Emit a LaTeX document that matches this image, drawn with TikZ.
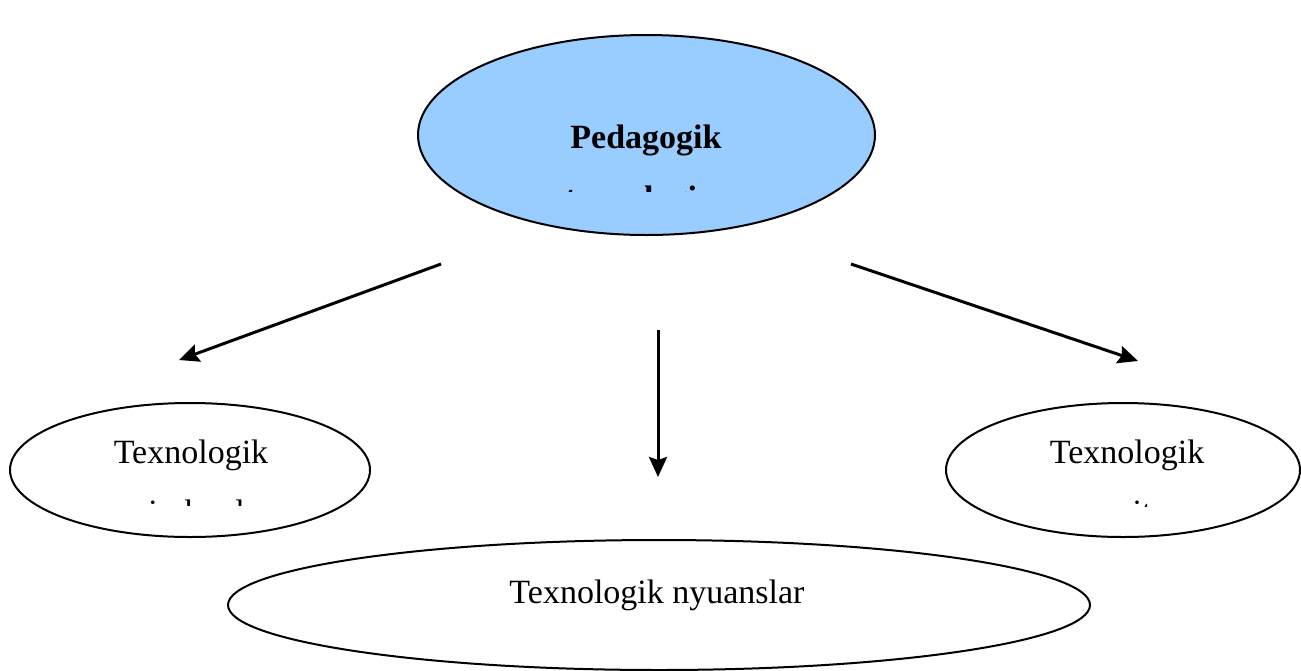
\documentclass[tikz,border=0pt]{standalone}
\usepackage{fontspec}
\setmainfont{Liberation Serif}
\usetikzlibrary{shapes.geometric}
\usetikzlibrary{arrows.meta}
\definecolor{pedblue}{HTML}{99CCFF}

\begin{document}
\begin{tikzpicture}[x=0.5pt, y=-0.5pt,
    oval/.style={ellipse, draw, line width=1pt, inner sep=0pt},
    word/.style={font=\fontsize{17}{20}\selectfont, inner sep=0pt, anchor=base},
    boldword/.style={word, font=\fontsize{17}{20}\selectfont\bfseries},
    link/.style={line width=1.5pt, -{Stealth[length=10pt, width=9pt, inset=1.5pt]}}]
    \useasboundingbox (0,0) rectangle (1301,670);

    % Draw the ovals
    \node[oval, fill=pedblue, minimum width=228.5pt, minimum height=100pt] (ped) at (646.5,135) {};
    \node[oval, minimum width=180pt, minimum height=67pt] (imkon) at (190,470) {};
    \node[oval, minimum width=177pt, minimum height=67pt] (vosita) at (1123,470) {};
    \node[oval, minimum width=431pt, minimum height=65pt] (nyuans) at (659,605) {};

    % Labels
    \node[boldword] (ped-1) at (646,148) {Pedagogik};
    \node[word] (imkon-1) at (191,463) {Texnologik};
    \node[word] (vosita-1) at (1127,463) {Texnologik};
    \node[word] (nyuans-1) at (657,603) {Texnologik nyuanslar};

    % Second lines, cut off by their boxes
    \begin{scope}
      \clip (560,150) rectangle (740,191);
      \node[boldword] (ped-2) at (648,209) {texnologiya};
    \end{scope}
    \begin{scope}
      \clip (100,480) rectangle (300,505);
      \node[word, anchor=base west] (imkon-2) at (148,523) {imkonlar};
    \end{scope}
    \begin{scope}
      \clip (1040,480) rectangle (1155,506);
      \node[word, anchor=base west] (vosita-2) at (1085,523) {vositalar};
    \end{scope}

    % Arrows
    \coordinate (from-l) at (441,264);
    \coordinate (to-l) at (179,360);
    \coordinate (from-m) at (658,330);
    \coordinate (to-m) at (658,477);
    \coordinate (from-r) at (851,264);
    \coordinate (to-r) at (1138,361);
    \draw[link] (from-l) -- (to-l);
    \draw[link] (from-m) -- (to-m);
    \draw[link] (from-r) -- (to-r);
\end{tikzpicture}
\end{document}
